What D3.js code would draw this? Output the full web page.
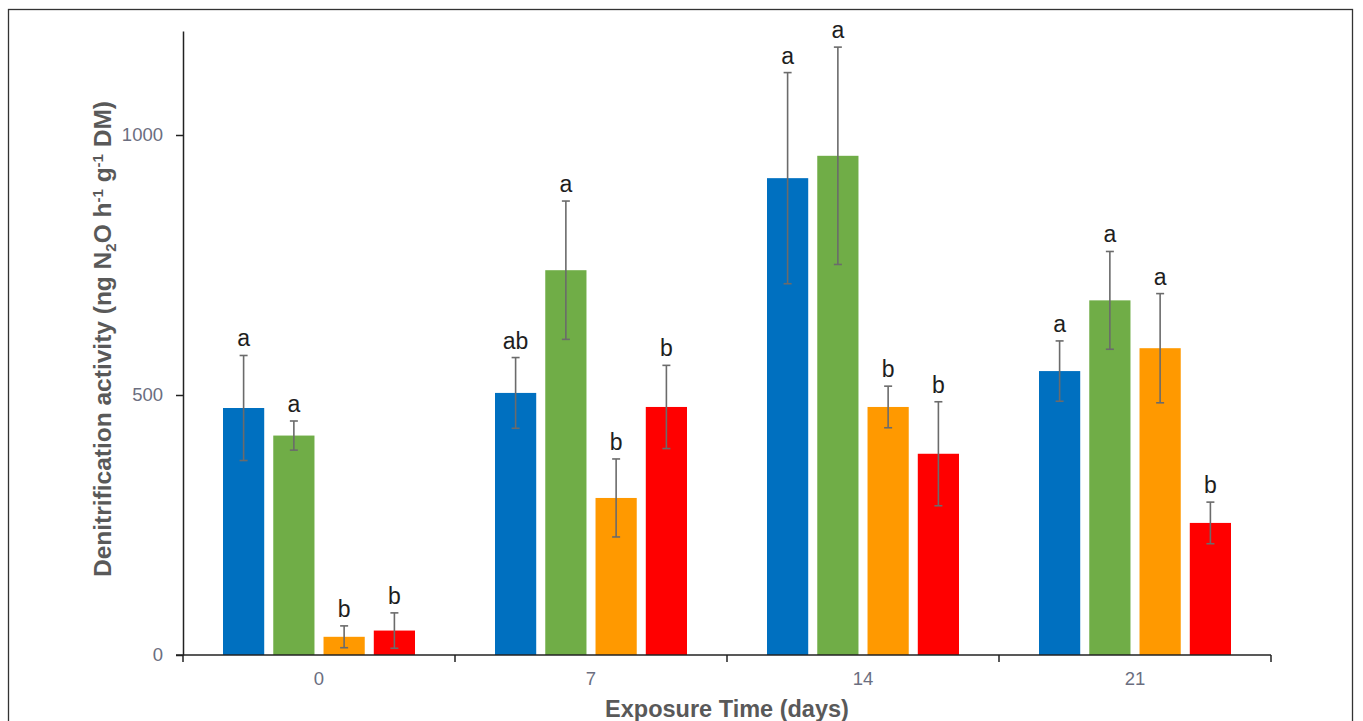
<!DOCTYPE html>
<html>
<head>
<meta charset="utf-8">
<script src="https://cdn.jsdelivr.net/npm/d3@7/dist/d3.min.js"></script>
<style>
  html, body { margin: 0; padding: 0; background: #fff; }
  svg { display: block; }
</style>
</head>
<body>
<svg id="chart" width="1363" height="721"></svg>
<script>
// ---- data ----
const categories = ["0", "7", "14", "21"];
const seriesNames = ["S1", "S2", "S3", "S4"];
const seriesColors = ["#0070C0", "#70AD47", "#FF9900", "#FF0000"];
const values = [
  [475, 422, 35, 47],
  [504, 740, 302, 477],
  [917, 960, 477, 387],
  [546, 682, 590, 254]
];
const errors = [
  [101, 28, 21, 34],
  [68, 133, 75, 80],
  [203, 209, 40, 100],
  [58, 94, 105, 40]
];
const letters = [
  ["a", "a", "b", "b"],
  ["ab", "a", "b", "b"],
  ["a", "a", "b", "b"],
  ["a", "a", "a", "b"]
];
const yTicks = [0, 500, 1000];
const yMax = 1200;

// ---- layout ----
const svg = d3.select("#chart");
const mLeft = 183, mRight = 1271, mTop = 31, mBottom = 655;
const FONT = "Liberation Sans, Arial, sans-serif";

// frame
svg.append("rect")
  .attr("x", 8.5).attr("y", 9.5)
  .attr("width", 1344).attr("height", 730)
  .attr("fill", "none").attr("stroke", "#333").attr("stroke-width", 1.3);

const x = d3.scaleBand().domain(categories).range([mLeft, mRight]).paddingInner(0).paddingOuter(0);
const xs = d3.scaleBand().domain(seriesNames).range([40, 232]).paddingInner(0.18).paddingOuter(0);
const y = d3.scaleLinear().domain([0, yMax]).range([mBottom, mTop]);

// bars
const groups = svg.append("g").selectAll("g")
  .data(categories).join("g")
  .attr("transform", d => `translate(${x(d)},0)`);

groups.each(function(cat, ci) {
  const g = d3.select(this);
  seriesNames.forEach((s, si) => {
    const v = values[ci][si], e = errors[ci][si];
    const bx = xs(s), bw = xs.bandwidth();
    g.append("rect")
      .attr("x", bx).attr("y", y(v))
      .attr("width", bw).attr("height", y(0) - y(v))
      .attr("fill", seriesColors[si]);
    const cx = bx + bw / 2;
    const eg = g.append("g").attr("stroke", "#6b6b6b").attr("stroke-width", 1.6);
    eg.append("line").attr("x1", cx).attr("x2", cx).attr("y1", y(v + e)).attr("y2", y(v - e));
    eg.append("line").attr("x1", cx - 4).attr("x2", cx + 4).attr("y1", y(v + e)).attr("y2", y(v + e));
    eg.append("line").attr("x1", cx - 4).attr("x2", cx + 4).attr("y1", y(v - e)).attr("y2", y(v - e));
    g.append("text")
      .attr("x", cx).attr("y", y(v + e) - 9)
      .attr("text-anchor", "middle")
      .attr("font-family", FONT)
      .attr("font-size", 23)
      .attr("fill", "#1e1e1e")
      .text(letters[ci][si]);
  });
});

// y axis
const yAxis = svg.append("g")
  .attr("transform", `translate(${mLeft},0)`)
  .call(d3.axisLeft(y).tickValues(yTicks).tickFormat(d3.format("d"))
    .tickSize(7).tickSizeOuter(0).tickPadding(13));
yAxis.select(".domain").attr("stroke", "#222").attr("stroke-width", 1.5);
yAxis.selectAll(".tick line").attr("stroke", "#222").attr("stroke-width", 1.5);
yAxis.selectAll(".tick text")
  .attr("font-family", FONT)
  .attr("font-size", 18.5).attr("fill", "#6b6e80");

// x axis: line and boundary ticks
const xa = svg.append("g");
xa.append("line").attr("x1", mLeft - 7).attr("x2", mRight).attr("y1", mBottom).attr("y2", mBottom)
  .attr("stroke", "#222").attr("stroke-width", 1.5);
const bounds = categories.map(c => x(c)).concat([x(categories[categories.length - 1]) + x.bandwidth()]);
xa.selectAll("line.tk").data(bounds).join("line").attr("class", "tk")
  .attr("x1", d => d).attr("x2", d => d).attr("y1", mBottom).attr("y2", mBottom + 7)
  .attr("stroke", "#222").attr("stroke-width", 1.5);
xa.selectAll("text.lbl").data(categories).join("text").attr("class", "lbl")
  .attr("x", d => x(d) + x.bandwidth() / 2).attr("y", mBottom + 30)
  .attr("text-anchor", "middle")
  .attr("font-family", FONT)
  .attr("font-size", 18.5).attr("fill", "#6b6e80")
  .text(d => d);

// axis titles
svg.append("text")
  .attr("x", (mLeft + mRight) / 2).attr("y", 716.5)
  .attr("text-anchor", "middle")
  .attr("font-family", FONT)
  .attr("font-weight", "bold").attr("font-size", 23.5).attr("fill", "#595959")
  .text("Exposure Time (days)");

const yt = svg.append("text")
  .attr("transform", "translate(111,339) rotate(-90)")
  .attr("text-anchor", "middle")
  .attr("font-family", FONT)
  .attr("font-weight", "bold").attr("font-size", 24.5).attr("fill", "#595959");
yt.append("tspan").text("Denitrification  activity (ng N");
yt.append("tspan").attr("font-size", 15).attr("dy", 5).text("2");
yt.append("tspan").attr("dy", -5).text("O h");
yt.append("tspan").attr("font-size", 15).attr("dy", -8).text("-1");
yt.append("tspan").attr("dy", 8).text(" g");
yt.append("tspan").attr("font-size", 15).attr("dy", -8).text("-1");
yt.append("tspan").attr("dy", 8).text(" DM)");
</script>
</body>
</html>
